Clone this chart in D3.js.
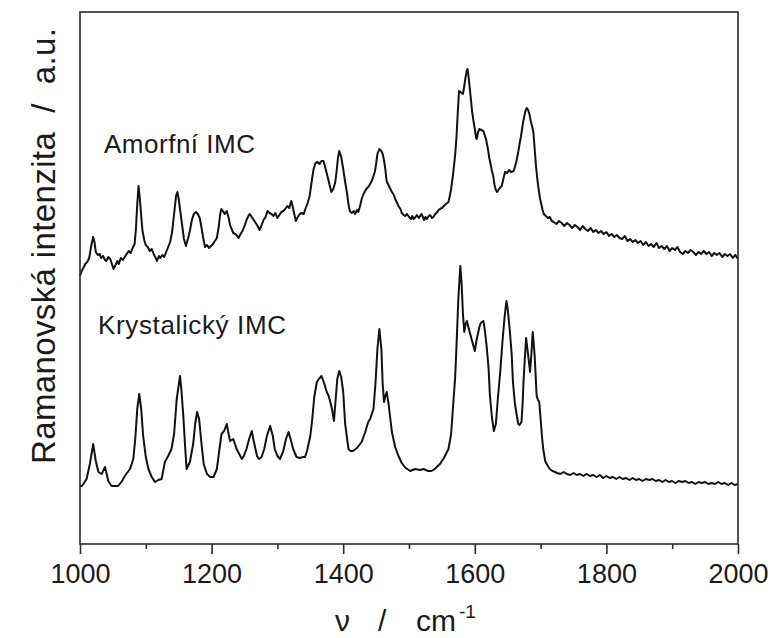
<!DOCTYPE html>
<html>
<head>
<meta charset="utf-8">
<script src="https://cdn.jsdelivr.net/npm/d3@7"></script>
<style>
  html, body { margin: 0; padding: 0; background: #fff; }
  svg { display: block; font-family: "Liberation Sans", Arial, sans-serif; }
</style>
</head>
<body>
<svg id="chart" width="771" height="638"></svg>
<script>
// Raman spectra of indomethacin (IMC): [wavenumber cm^-1, intensity a.u.], traces offset vertically
const amorfniSpectrum = [
  [1000,268],[1002,272],[1005,276],[1008,280],[1011,282],[1014,286],[1017,298],[1020,307],[1022,302],[1024,292],
  [1027,289],[1030,290],[1032,286],[1035,288],[1038,284],[1040,283],[1043,287],[1046,285],[1049,279],[1051,275],
  [1054,279],[1057,283],[1059,280],[1062,286],[1065,284],[1068,287],[1071,290],[1074,293],[1077,291],[1080,296],
  [1083,300],[1085,315],[1087,340],[1089,358],[1091,345],[1093,328],[1095,313],[1098,303],[1100,299],[1103,297],
  [1106,293],[1109,295],[1112,290],[1115,286],[1117,283],[1120,288],[1122,286],[1125,289],[1128,287],[1131,292],
  [1134,297],[1137,302],[1140,312],[1143,330],[1146,348],[1148,352],[1150,345],[1152,335],[1155,320],[1158,305],
  [1161,298],[1164,305],[1167,313],[1170,324],[1173,330],[1176,332],[1179,330],[1182,326],[1185,315],[1187,307],
  [1190,297],[1193,299],[1196,296],[1199,298],[1202,300],[1205,303],[1208,306],[1211,318],[1213,330],[1215,335],
  [1218,332],[1220,330],[1223,333],[1226,326],[1228,319],[1231,314],[1233,311],[1236,310],[1239,308],[1241,306],
  [1244,310],[1247,313],[1250,318],[1253,324],[1256,328],[1258,330],[1261,327],[1264,324],[1267,321],[1270,318],
  [1273,314],[1276,319],[1279,324],[1282,327],[1285,333],[1288,331],[1291,330],[1294,328],[1297,331],[1300,326],
  [1303,329],[1306,332],[1309,333],[1312,335],[1315,338],[1318,336],[1321,343],[1323,338],[1325,332],[1328,323],
  [1331,327],[1334,330],[1337,331],[1340,330],[1343,336],[1346,341],[1349,348],[1352,362],[1355,375],[1358,381],
  [1361,382],[1364,380],[1367,383],[1370,383],[1373,376],[1376,368],[1379,360],[1382,352],[1385,355],[1388,362],
  [1390,373],[1392,386],[1394,393],[1397,387],[1400,375],[1403,362],[1406,350],[1408,340],[1410,333],[1413,331],
  [1416,333],[1418,330],[1421,334],[1423,332],[1426,339],[1428,345],[1431,350],[1435,355],[1438,357],[1441,360],
  [1444,364],[1446,368],[1448,372],[1450,380],[1452,390],[1455,395],[1458,393],[1460,390],[1462,384],[1464,375],
  [1466,363],[1468,360],[1471,356],[1474,352],[1477,349],[1479,345],[1482,341],[1484,338],[1487,335],[1489,331],
  [1492,329],[1494,328],[1497,330],[1500,327],[1503,325],[1505,328],[1507,325],[1510,327],[1512,329],[1515,326],
  [1517,328],[1519,330],[1521,327],[1523,324],[1525,327],[1527,325],[1530,328],[1532,329],[1535,326],[1537,327],
  [1540,330],[1543,332],[1545,334],[1547,335],[1550,336],[1553,338],[1556,340],[1560,342],[1562,348],[1564,355],
  [1567,370],[1570,388],[1572,405],[1574,430],[1576,453],[1578,452],[1580,451],[1582,450],[1584,458],[1586,467],
  [1588,474],[1589,475],[1590,470],[1592,458],[1594,445],[1596,432],[1598,423],[1600,415],[1602,406],[1603,405],
  [1605,412],[1607,415],[1610,414],[1613,413],[1615,409],[1617,405],[1620,395],[1622,386],[1624,380],[1626,373],
  [1628,368],[1630,359],[1632,354],[1634,352],[1636,354],[1638,356],[1641,358],[1643,364],[1646,372],[1649,371],
  [1652,374],[1655,372],[1659,373],[1661,377],[1663,382],[1666,392],[1668,400],[1670,407],[1673,420],[1675,427],
  [1677,433],[1679,436],[1681,434],[1683,430],[1685,423],[1687,418],[1689,412],[1691,395],[1693,378],[1695,365],
  [1697,355],[1699,346],[1701,340],[1703,334],[1705,330],[1708,328],[1711,326],[1714,327],[1717,323],[1720,322],
  [1724,320],[1728,323],[1732,321],[1736,318],[1740,321],[1744,319],[1748,316],[1752,319],[1756,317],[1760,314],
  [1764,318],[1768,315],[1772,313],[1776,316],[1780,312],[1784,314],[1788,311],[1792,313],[1796,310],[1800,312],
  [1804,308],[1808,310],[1812,307],[1816,309],[1820,306],[1824,305],[1828,308],[1832,303],[1836,305],[1840,302],
  [1844,304],[1848,301],[1852,303],[1856,299],[1860,302],[1864,298],[1868,300],[1872,297],[1876,301],[1880,296],
  [1884,298],[1888,295],[1892,298],[1896,293],[1900,296],[1904,294],[1908,297],[1912,292],[1916,290],[1920,293],
  [1924,291],[1928,294],[1932,292],[1936,289],[1940,292],[1944,290],[1948,293],[1952,290],[1956,292],[1960,288],
  [1964,291],[1968,289],[1972,291],[1976,287],[1980,290],[1984,288],[1988,290],[1992,286],[1996,289],[2000,285]
];

const krystalickySpectrum = [
  [1000,58],[1003,58],[1010,65],[1015,80],[1020,100],[1024,83],[1028,72],[1033,70],[1038,77],[1043,63],
  [1048,58],[1053,58],[1058,58],[1064,63],[1068,68],[1076,75],[1081,85],[1084,105],[1087,135],[1090,150],
  [1093,135],[1096,108],[1100,87],[1104,75],[1109,67],[1114,62],[1119,64],[1124,65],[1129,82],[1134,88],
  [1139,95],[1143,110],[1147,145],[1152,168],[1154,155],[1157,128],[1160,95],[1162,75],[1167,82],[1172,100],
  [1175,120],[1178,132],[1181,125],[1185,98],[1188,80],[1193,70],[1198,67],[1203,67],[1208,75],[1211,90],
  [1215,110],[1219,113],[1223,120],[1225,113],[1228,103],[1233,105],[1238,95],[1242,90],[1246,85],[1249,88],
  [1253,95],[1257,105],[1261,113],[1264,103],[1269,88],[1272,85],[1276,87],[1280,95],[1284,108],[1289,118],
  [1293,108],[1296,95],[1300,88],[1304,85],[1309,93],[1313,105],[1317,112],[1320,105],[1324,95],[1329,87],
  [1334,86],[1339,87],[1342,87],[1345,93],[1350,108],[1353,125],[1356,147],[1360,162],[1363,165],[1367,168],
  [1371,161],[1375,152],[1378,148],[1380,143],[1383,135],[1386,123],[1388,140],[1391,165],[1394,173],[1397,167],
  [1400,152],[1403,120],[1408,95],[1411,93],[1415,93],[1421,96],[1428,102],[1433,111],[1438,122],[1441,125],
  [1446,135],[1449,160],[1452,195],[1455,215],[1458,195],[1460,160],[1462,142],[1464,148],[1466,152],[1469,140],
  [1474,112],[1479,97],[1484,88],[1489,81],[1495,76],[1502,73],[1509,75],[1517,74],[1522,75],[1529,73],
  [1534,73],[1539,75],[1547,80],[1553,86],[1560,95],[1564,110],[1567,138],[1570,165],[1572,195],[1575,245],
  [1578,278],[1580,260],[1582,230],[1584,212],[1586,220],[1588,223],[1591,215],[1595,205],[1600,193],[1603,205],
  [1607,217],[1609,221],[1613,223],[1615,215],[1618,198],[1621,175],[1623,148],[1626,127],[1629,113],[1632,120],
  [1635,145],[1639,175],[1642,202],[1645,225],[1648,243],[1650,235],[1653,215],[1656,190],[1658,162],[1661,140],
  [1666,120],[1668,119],[1671,122],[1673,145],[1674,162],[1676,185],[1678,206],[1680,195],[1684,172],[1686,190],
  [1688,212],[1689,205],[1691,188],[1694,148],[1696,144],[1698,142],[1700,125],[1702,108],[1704,95],[1707,83],
  [1711,78],[1714,75],[1718,73],[1722,72],[1725,71],[1730,70],[1735,72],[1740,70],[1745,69],[1750,71],
  [1755,69],[1760,70],[1765,68],[1770,70],[1775,68],[1780,69],[1785,67],[1790,69],[1795,66],[1800,68],
  [1805,66],[1810,67],[1815,65],[1820,67],[1825,65],[1830,66],[1835,64],[1840,66],[1845,64],[1850,65],
  [1855,63],[1860,65],[1865,64],[1870,65],[1875,63],[1880,64],[1885,62],[1890,64],[1895,62],[1900,63],
  [1905,61],[1910,63],[1915,62],[1920,63],[1925,61],[1930,62],[1935,60],[1940,62],[1945,61],[1950,62],
  [1955,60],[1960,61],[1965,60],[1970,62],[1975,60],[1980,61],[1985,59],[1990,61],[1995,59],[2000,60]
];

const xTicks = [1000, 1200, 1400, 1600, 1800, 2000];
const xMinorTicks = [1100, 1300, 1500, 1700, 1900];
const seriesLabels = ["Amorfní IMC", "Krystalický IMC"];

const svg = d3.select("#chart");
const W = 771, H = 638;
const margin = { left: 80, right: 33, top: 12, bottom: 94 };
const x0 = margin.left, x1 = W - margin.right, y0 = margin.top, y1 = H - margin.bottom;

const x = d3.scaleLinear().domain([1000, 2000]).range([x0, x1]);
const y = d3.scaleLinear().domain([0, 532]).range([y1, y0]);

const line = d3.line().x(d => x(d[0])).y(d => y(d[1]));

svg.append("g").selectAll("path")
  .data([amorfniSpectrum, krystalickySpectrum])
  .join("path")
  .attr("d", line)
  .attr("fill", "none")
  .attr("stroke", "#111")
  .attr("stroke-width", 2)
  .attr("stroke-linejoin", "round");

// plot frame
svg.append("rect")
  .attr("x", x0).attr("y", y0)
  .attr("width", x1 - x0).attr("height", y1 - y0)
  .attr("fill", "none")
  .attr("stroke", "#2a2a2a")
  .attr("stroke-width", 1.6);

// bottom axis: labelled major ticks, unlabelled minor ticks
const axisMajor = d3.axisBottom(x).tickValues(xTicks).tickSize(10).tickPadding(10)
  .tickFormat(d3.format("d"));
const gMajor = svg.append("g").attr("transform", `translate(0,${y1})`).call(axisMajor);
gMajor.select(".domain").remove();
gMajor.selectAll(".tick line").attr("stroke", "#2a2a2a").attr("stroke-width", 1.6);
gMajor.selectAll(".tick text")
  .attr("font-size", 27).attr("fill", "#1a1a1a")
  .attr("font-family", "Liberation Sans, Arial, sans-serif");

const axisMinor = d3.axisBottom(x).tickValues(xMinorTicks).tickSize(5).tickFormat("");
const gMinor = svg.append("g").attr("transform", `translate(0,${y1})`).call(axisMinor);
gMinor.select(".domain").remove();
gMinor.selectAll(".tick line").attr("stroke", "#2a2a2a").attr("stroke-width", 1.6);

// x axis title: ν / cm^-1
const xt = svg.append("text")
  .attr("y", 631)
  .attr("font-size", 30)
  .attr("fill", "#1a1a1a");
xt.append("tspan").attr("x", 335).text("ν");
xt.append("tspan").attr("x", 378).text("/");
xt.append("tspan").attr("x", 416).text("cm");
xt.append("tspan").attr("x", 459).attr("dy", -13).attr("font-size", 19).text("-1");

// y axis title
svg.append("text")
  .attr("transform", "translate(55,246) rotate(-90)")
  .attr("text-anchor", "middle")
  .attr("font-size", 33)
  .attr("fill", "#1a1a1a")
  .attr("textLength", 436)
  .attr("lengthAdjust", "spacing")
  .style("white-space", "pre")
  .text("Ramanovská intenzita  /  a.u.");

// series labels
svg.append("text")
  .attr("x", 104).attr("y", 153)
  .attr("font-size", 26).attr("fill", "#1a1a1a")
  .attr("textLength", 151).attr("lengthAdjust", "spacing")
  .text(seriesLabels[0]);
svg.append("text")
  .attr("x", 98).attr("y", 334)
  .attr("font-size", 26).attr("fill", "#1a1a1a")
  .attr("textLength", 188).attr("lengthAdjust", "spacing")
  .text(seriesLabels[1]);
</script>
</body>
</html>
